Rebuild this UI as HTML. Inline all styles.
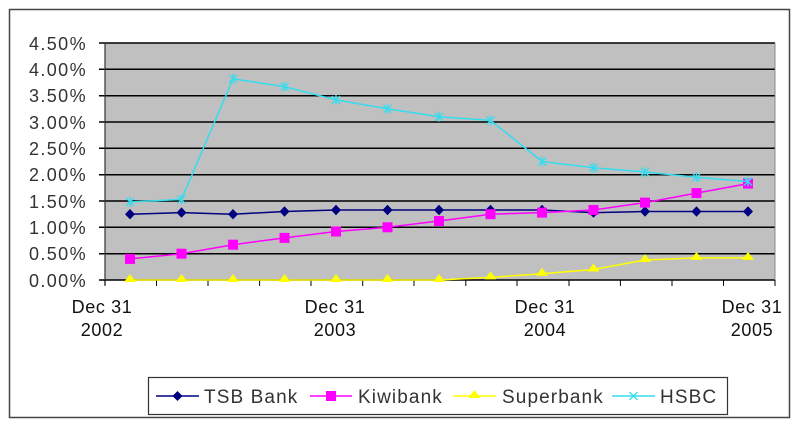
<!DOCTYPE html>
<html><head><style>
body{margin:0;background:#fff;}
svg text{font-family:"Liberation Sans",sans-serif;}
</style></head><body>
<svg width="800" height="429" xmlns="http://www.w3.org/2000/svg">
<rect x="0" y="0" width="800" height="429" fill="#fff"/>
<rect x="9.5" y="9.5" width="780" height="408" fill="#fff" stroke="#444" stroke-width="1.5"/>
<rect x="105" y="43" width="670" height="237" fill="#c0c0c0"/>
<g stroke="#000" stroke-width="1.5">
<line x1="99" y1="43" x2="775" y2="43"/>
<line x1="99" y1="69.3" x2="775" y2="69.3"/>
<line x1="99" y1="95.7" x2="775" y2="95.7"/>
<line x1="99" y1="122" x2="775" y2="122"/>
<line x1="99" y1="148.3" x2="775" y2="148.3"/>
<line x1="99" y1="174.7" x2="775" y2="174.7"/>
<line x1="99" y1="201" x2="775" y2="201"/>
<line x1="99" y1="227.3" x2="775" y2="227.3"/>
<line x1="99" y1="253.7" x2="775" y2="253.7"/>
<line x1="99" y1="280" x2="775" y2="280"/>
</g>
<line x1="105" y1="43" x2="105" y2="285" stroke="#333" stroke-width="1.2"/>
<line x1="775" y1="43" x2="775" y2="280" stroke="#888" stroke-width="1"/>
<g stroke="#000" stroke-width="1">
<line x1="105" y1="280" x2="105" y2="286"/><line x1="156.5" y1="280" x2="156.5" y2="286"/><line x1="208" y1="280" x2="208" y2="286"/><line x1="259.6" y1="280" x2="259.6" y2="286"/><line x1="311" y1="280" x2="311" y2="286"/><line x1="362.7" y1="280" x2="362.7" y2="286"/><line x1="414" y1="280" x2="414" y2="286"/><line x1="465.8" y1="280" x2="465.8" y2="286"/><line x1="517" y1="280" x2="517" y2="286"/><line x1="569" y1="280" x2="569" y2="286"/><line x1="620.4" y1="280" x2="620.4" y2="286"/><line x1="672" y1="280" x2="672" y2="286"/><line x1="723.5" y1="280" x2="723.5" y2="286"/><line x1="775" y1="280" x2="775" y2="286"/>
</g>
<g font-size="18" fill="#333" text-anchor="end" letter-spacing="1.4">
<text x="87" y="50">4.50%</text><text x="87" y="76">4.00%</text><text x="87" y="102">3.50%</text><text x="87" y="129">3.00%</text><text x="87" y="155">2.50%</text><text x="87" y="181">2.00%</text><text x="87" y="208">1.50%</text><text x="87" y="234">1.00%</text><text x="87" y="260">0.50%</text><text x="87" y="287">0.00%</text>
</g>
<g font-size="18" fill="#111" text-anchor="middle" letter-spacing="0.6">
<text x="102" y="313">Dec 31</text><text x="102" y="336">2002</text>
<text x="335" y="313">Dec 31</text><text x="335" y="336">2003</text>
<text x="545" y="313">Dec 31</text><text x="545" y="336">2004</text>
<text x="752" y="313">Dec 31</text><text x="752" y="336">2005</text>
</g>
<polyline fill="none" stroke="#ffff00" stroke-width="1.5" points="130,280 181.5,280 233,280 284.5,280 336,280 387.5,280 439,280 490.5,277.4 542,273.7 593.5,269.5 645,260 696.5,257.9 748,257.9"/>
<g fill="#ffff00">
<path d="M130,274 l6,8 h-12z"/><path d="M181.5,274 l6,8 h-12z"/><path d="M233,274 l6,8 h-12z"/><path d="M284.5,274 l6,8 h-12z"/><path d="M336,274 l6,8 h-12z"/><path d="M387.5,274 l6,8 h-12z"/><path d="M439,274 l6,8 h-12z"/><path d="M490.5,271.4 l6,8 h-12z"/><path d="M542,267.7 l6,8 h-12z"/><path d="M593.5,263.5 l6,8 h-12z"/><path d="M645,254 l6,8 h-12z"/><path d="M696.5,251.9 l6,8 h-12z"/><path d="M748,251.9 l6,8 h-12z"/>
</g>
<polyline fill="none" stroke="#000080" stroke-width="1.5" points="130,214.2 181.5,212.6 233,214.2 284.5,211.5 336,210 387.5,210 439,210 490.5,210 542,210 593.5,212.6 645,211.5 696.5,211.5 748,211.5"/>
<g fill="#000080">
<path d="M130,209 l5,5.2 -5,5.2 -5,-5.2z"/><path d="M181.5,207.4 l5,5.2 -5,5.2 -5,-5.2z"/><path d="M233,209 l5,5.2 -5,5.2 -5,-5.2z"/><path d="M284.5,206.3 l5,5.2 -5,5.2 -5,-5.2z"/><path d="M336,204.8 l5,5.2 -5,5.2 -5,-5.2z"/><path d="M387.5,204.8 l5,5.2 -5,5.2 -5,-5.2z"/><path d="M439,204.8 l5,5.2 -5,5.2 -5,-5.2z"/><path d="M490.5,204.8 l5,5.2 -5,5.2 -5,-5.2z"/><path d="M542,204.8 l5,5.2 -5,5.2 -5,-5.2z"/><path d="M593.5,207.4 l5,5.2 -5,5.2 -5,-5.2z"/><path d="M645,206.3 l5,5.2 -5,5.2 -5,-5.2z"/><path d="M696.5,206.3 l5,5.2 -5,5.2 -5,-5.2z"/><path d="M748,206.3 l5,5.2 -5,5.2 -5,-5.2z"/>
</g>
<polyline fill="none" stroke="#ff00ff" stroke-width="1.5" points="130,258.9 181.5,253.7 233,244.7 284.5,237.9 336,231.5 387.5,227.3 439,221 490.5,214.2 542,212.6 593.5,210 645,202.6 696.5,193.1 748,183.6"/>
<g fill="#ff00ff">
<rect x="125" y="253.9" width="10" height="10"/><rect x="176.5" y="248.7" width="10" height="10"/><rect x="228" y="239.7" width="10" height="10"/><rect x="279.5" y="232.9" width="10" height="10"/><rect x="331" y="226.5" width="10" height="10"/><rect x="382.5" y="222.3" width="10" height="10"/><rect x="434" y="216" width="10" height="10"/><rect x="485.5" y="209.2" width="10" height="10"/><rect x="537" y="207.6" width="10" height="10"/><rect x="588.5" y="205" width="10" height="10"/><rect x="640" y="197.6" width="10" height="10"/><rect x="691.5" y="188.1" width="10" height="10"/><rect x="743" y="178.6" width="10" height="10"/>
</g>
<polyline fill="none" stroke="#33ddee" stroke-width="1.5" points="130,202 181.5,199.4 233,78.8 284.5,86.7 336,99.9 387.5,108.8 439,116.7 490.5,120.4 542,161.5 593.5,167.8 645,172 696.5,177.3 748,181.5"/>
<g stroke="#33ddee" stroke-width="1.3" fill="none">
<path d="M126,198 l8,8 M134,198 l-8,8 M130,197 v10"/><path d="M177.5,195.4 l8,8 M185.5,195.4 l-8,8 M181.5,194.4 v10"/><path d="M229,74.8 l8,8 M237,74.8 l-8,8 M233,73.8 v10"/><path d="M280.5,82.7 l8,8 M288.5,82.7 l-8,8 M284.5,81.7 v10"/><path d="M332,95.9 l8,8 M340,95.9 l-8,8 M336,94.9 v10"/><path d="M383.5,104.8 l8,8 M391.5,104.8 l-8,8 M387.5,103.8 v10"/><path d="M435,112.7 l8,8 M443,112.7 l-8,8 M439,111.7 v10"/><path d="M486.5,116.4 l8,8 M494.5,116.4 l-8,8 M490.5,115.4 v10"/><path d="M538,157.5 l8,8 M546,157.5 l-8,8 M542,156.5 v10"/><path d="M589.5,163.8 l8,8 M597.5,163.8 l-8,8 M593.5,162.8 v10"/><path d="M641,168 l8,8 M649,168 l-8,8 M645,167 v10"/><path d="M692.5,173.3 l8,8 M700.5,173.3 l-8,8 M696.5,172.3 v10"/><path d="M744,177.5 l8,8 M752,177.5 l-8,8 M748,176.5 v10"/>
</g>
<rect x="148.5" y="377.5" width="579" height="37" fill="#fff" stroke="#333" stroke-width="1.2"/>
<g font-size="19" fill="#333" letter-spacing="1.1">
<line x1="156" y1="396" x2="199" y2="396" stroke="#000080" stroke-width="1.5"/><path d="M177.5,391 l5,5 -5,5 -5,-5z" fill="#000080"/>
<text x="204" y="403">TSB Bank</text>
<line x1="310" y1="396" x2="352" y2="396" stroke="#ff00ff" stroke-width="1.5"/><rect x="326" y="391" width="10" height="10" fill="#ff00ff"/>
<text x="358" y="403">Kiwibank</text>
<line x1="453" y1="396" x2="496" y2="396" stroke="#ffff00" stroke-width="1.5"/><path d="M474.5,390 l6,8 h-12z" fill="#ffff00"/>
<text x="502" y="403">Superbank</text>
<line x1="612" y1="396" x2="655" y2="396" stroke="#33ddee" stroke-width="1.5"/><path d="M629.5,392 l8,8 M637.5,392 l-8,8" stroke="#33ddee" stroke-width="1.3"/>
<text x="660" y="403">HSBC</text>
</g>
</svg>
</body></html>
